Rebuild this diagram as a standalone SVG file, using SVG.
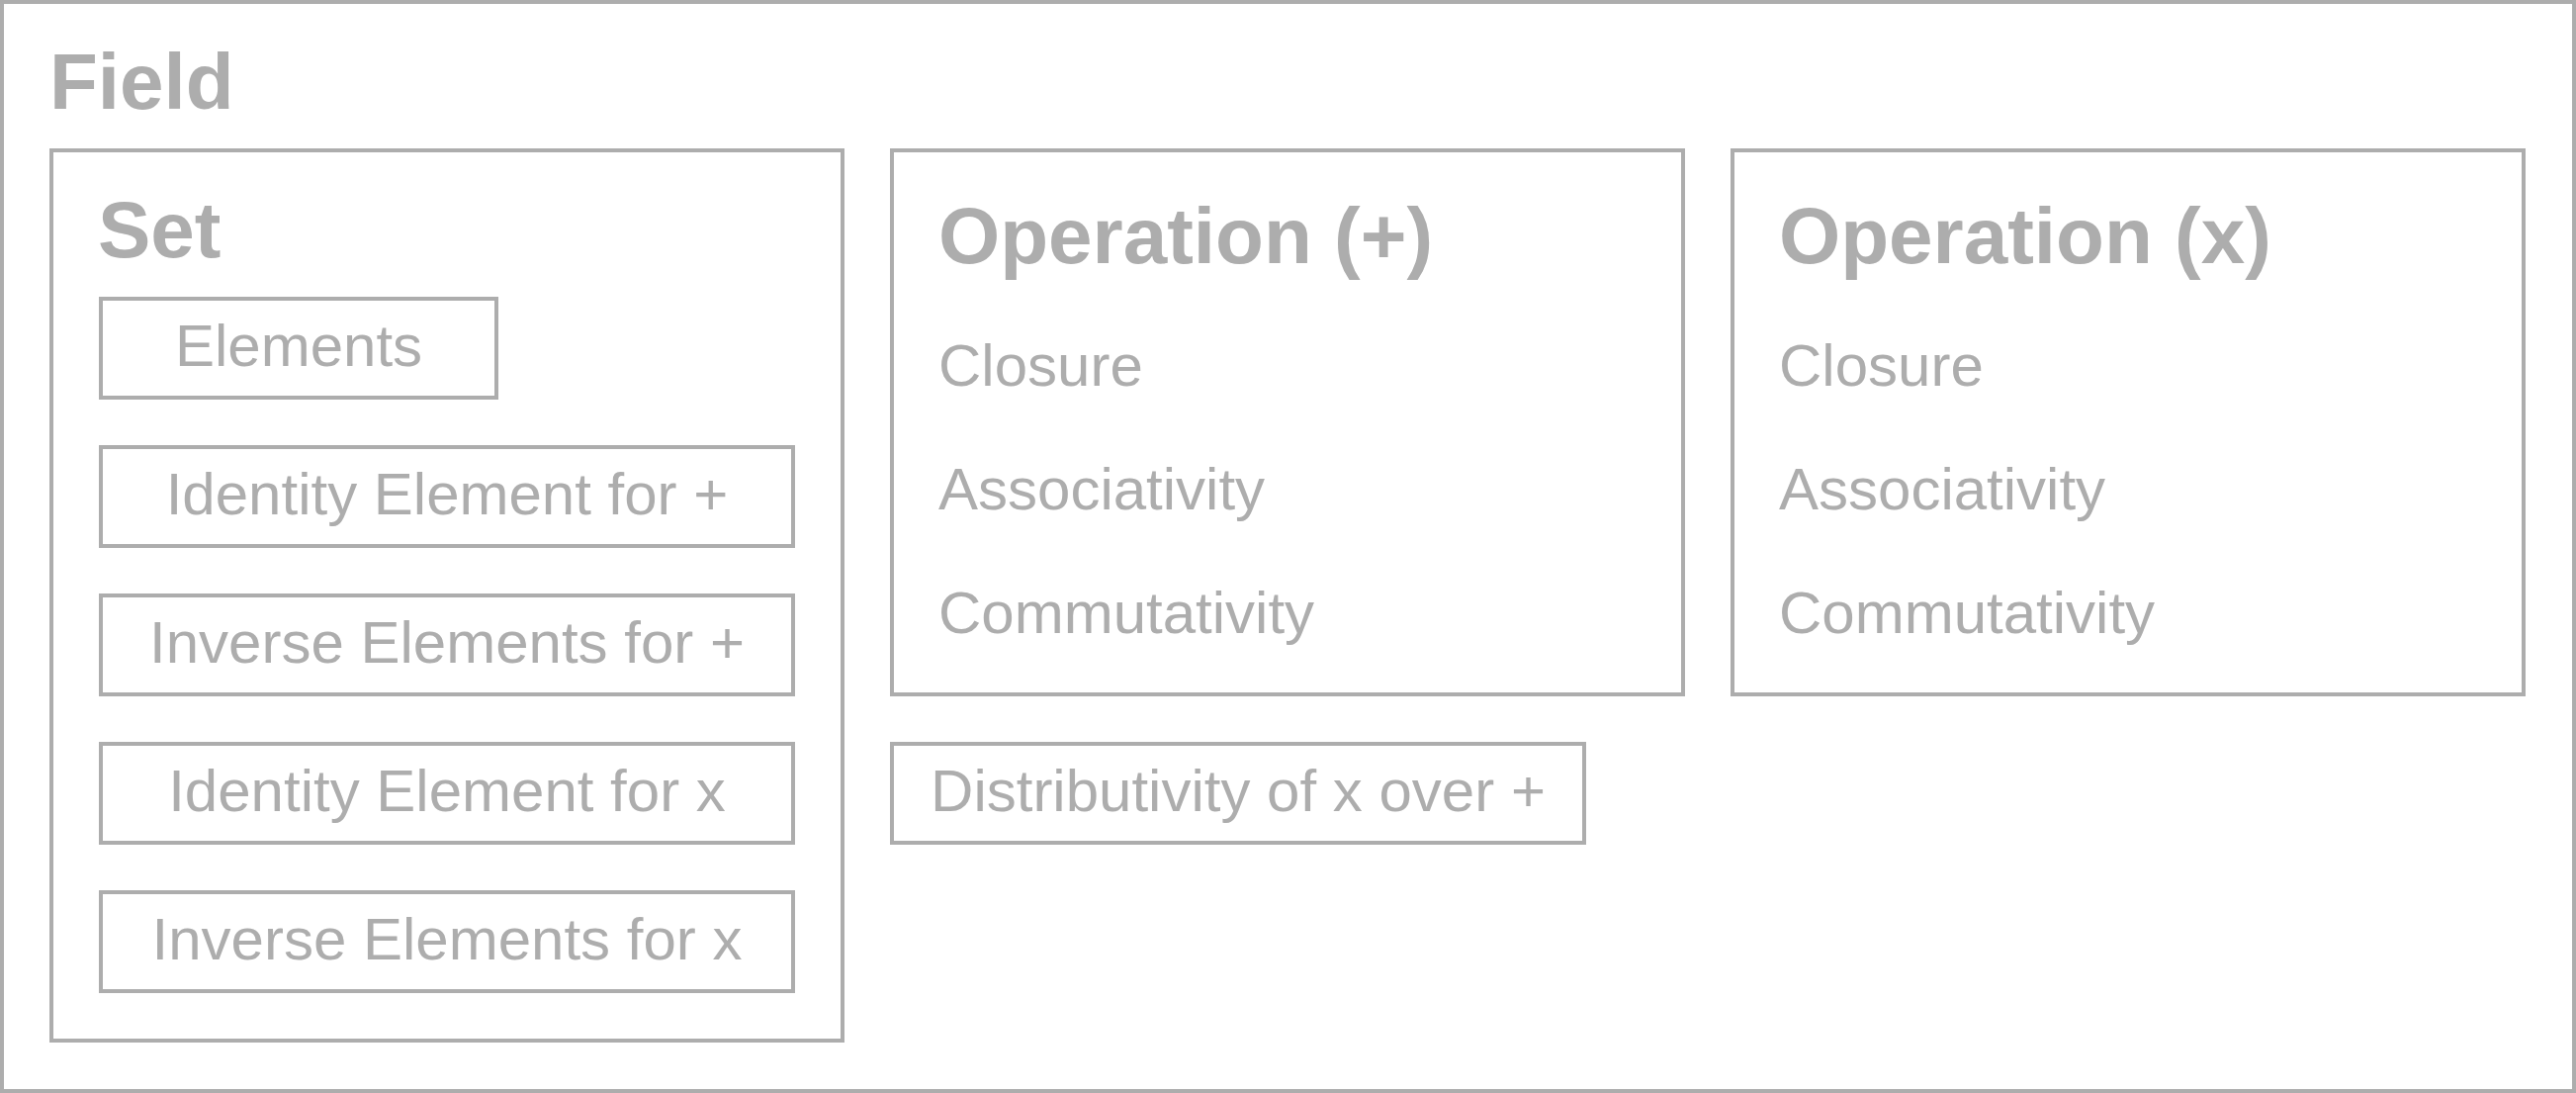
<svg xmlns="http://www.w3.org/2000/svg" width="2605" height="1105" viewBox="0 0 2605 1105">
<style>
  .box { fill: #ffffff; stroke: #adadad; stroke-width: 4; }
  .title { font-family: "Liberation Sans", Arial, sans-serif; font-weight: bold; font-size: 80px; fill: #adadad; }
  .item { font-family: "Liberation Sans", Arial, sans-serif; font-size: 60px; fill: #adadad; }
  .c { text-anchor: middle; }
</style>
<rect width="2605" height="1105" fill="#ffffff"/>
<g id="field">
  <rect class="box" x="2" y="2" width="2601" height="1101"/>
  <text class="title" x="50" y="110">Field</text>
</g>
<g id="set">
  <rect class="box" x="52" y="152" width="800" height="900"/>
  <text class="title" x="99" y="260">Set</text>
</g>
<g id="elements">
  <rect class="box" x="102" y="302" width="400" height="100"/>
  <text class="item c" x="302" y="370">Elements</text>
</g>
<g id="identity-plus">
  <rect class="box" x="102" y="452" width="700" height="100"/>
  <text class="item c" x="452" y="520">Identity Element for +</text>
</g>
<g id="inverse-plus">
  <rect class="box" x="102" y="602" width="700" height="100"/>
  <text class="item c" x="452" y="670">Inverse Elements for +</text>
</g>
<g id="identity-times">
  <rect class="box" x="102" y="752" width="700" height="100"/>
  <text class="item c" x="452" y="820">Identity Element for x</text>
</g>
<g id="inverse-times">
  <rect class="box" x="102" y="902" width="700" height="100"/>
  <text class="item c" x="452" y="970">Inverse Elements for x</text>
</g>
<g id="operation-plus">
  <rect class="box" x="902" y="152" width="800" height="550"/>
  <text class="title" x="949" y="266">Operation (+)</text>
  <text class="item" x="949" y="390">Closure</text>
  <text class="item" x="949" y="515">Associativity</text>
  <text class="item" x="949" y="640">Commutativity</text>
</g>
<g id="operation-times">
  <rect class="box" x="1752" y="152" width="800" height="550"/>
  <text class="title" x="1799" y="266">Operation (x)</text>
  <text class="item" x="1799" y="390">Closure</text>
  <text class="item" x="1799" y="515">Associativity</text>
  <text class="item" x="1799" y="640">Commutativity</text>
</g>
<g id="distributivity">
  <rect class="box" x="902" y="752" width="700" height="100"/>
  <text class="item c" x="1252" y="820">Distributivity of x over +</text>
</g>
<g id="connectors"></g>
</svg>
